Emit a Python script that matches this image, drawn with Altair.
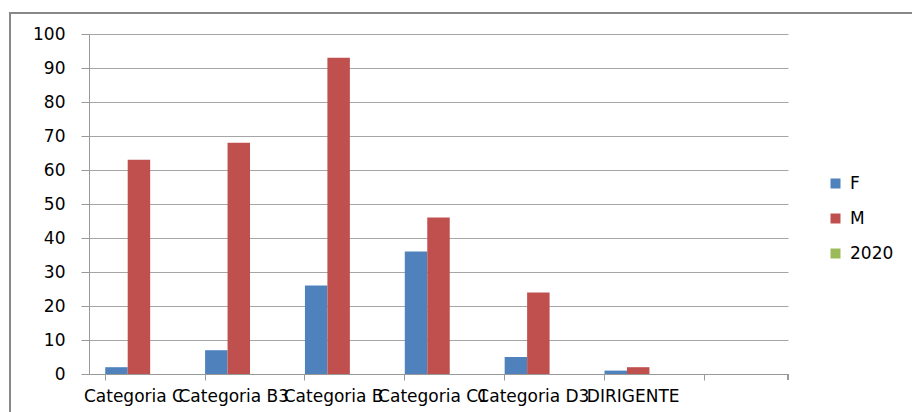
import altair as alt
import pandas as pd

categories = ["Categoria C", "Categoria B3", "Categoria B", "Categoria C1", "Categoria D3", "DIRIGENTE", " "]
series = ["F", "M", "2020"]
values_F = [2, 7, 26, 36, 5, 1]
values_M = [63, 68, 93, 46, 24, 2]
values_2020 = [0, 0, 0, 0, 0, 0]
colors = ["#4F81BD", "#C0504D", "#9BBB59"]
y_ticks = [0, 10, 20, 30, 40, 50, 60, 70, 80, 90, 100]

rows = []
for s, vals in zip(series, [values_F, values_M, values_2020]):
    for c, v in zip(categories, vals):
        rows.append({"categoria": c, "serie": s, "valore": v})
df = pd.DataFrame(rows)

FONT = "DejaVu Sans"
W, H = 699, 340

bars = alt.Chart(df).mark_bar().encode(
    x=alt.X("categoria:N",
            scale=alt.Scale(domain=categories, paddingInner=0.325, paddingOuter=0.1625),
            axis=alt.Axis(title=None, bandPosition=0, labelOffset=-5, labelAngle=0,
                          labelAlign="center", labelOverlap=False, labelFontSize=17,
                          labelFont=FONT, labelColor="#000000", tickSize=6,
                          tickColor="#999999", domainColor="#999999", labelPadding=8,
                          labelBound=False, labelFlush=False)),
    xOffset=alt.XOffset("serie:N", scale=alt.Scale(domain=series, paddingInner=0, paddingOuter=0)),
    y=alt.Y("valore:Q",
            scale=alt.Scale(domain=[0, 100], nice=False),
            axis=alt.Axis(title=None, values=y_ticks, labelFontSize=17, labelFont=FONT,
                          labelColor="#000000", tickSize=8, tickColor="#999999",
                          domainColor="#999999", gridColor="#a6a6a6", labelPadding=16)),
    color=alt.Color("serie:N",
                    scale=alt.Scale(domain=series, range=colors),
                    legend=alt.Legend(title=None, orient="none", legendX=738, legendY=141,
                                      symbolType="square", symbolSize=100, symbolStrokeWidth=0,
                                      labelFontSize=17, labelFont=FONT, labelColor="#000000",
                                      rowPadding=17, labelOffset=6)),
)

end_tick = alt.Chart(df).mark_rule(color="#999999").encode(
    x=alt.value(W), y=alt.value(H), y2=alt.value(H + 6)
)

border = alt.Chart(df).mark_rect(fill=None, stroke="#888888", strokeWidth=2).encode(
    x=alt.value(-79), y=alt.value(-21), x2=alt.value(900), y2=alt.value(420)
)

chart = alt.layer(border, bars, end_tick).properties(
    width=W, height=H,
    autosize=alt.AutoSizeParams(type="none"),
    padding={"left": 89, "top": 34, "right": 124, "bottom": 38},
).configure_view(stroke=None).configure_axis(grid=False).configure_axisY(grid=True)

chart.save("out.html", embed_options={"renderer": "svg", "actions": False})
